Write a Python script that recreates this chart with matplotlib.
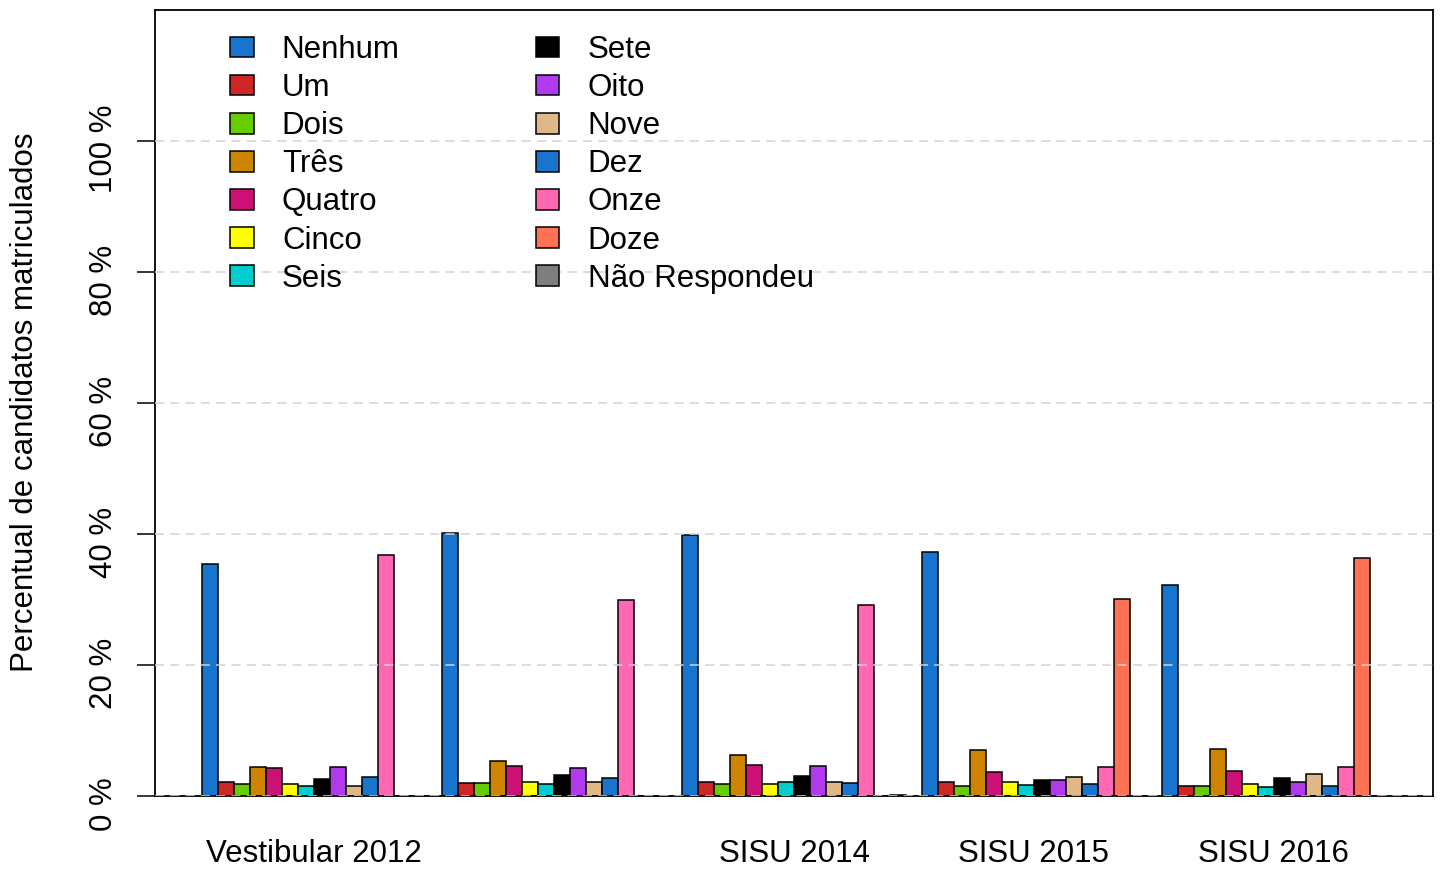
import numpy as np
import matplotlib.pyplot as plt
import matplotlib.transforms as mtransforms
from matplotlib.patches import Patch

plt.rcParams['font.family'] = ['Liberation Sans', 'DejaVu Sans']

# Grupos (o rótulo do segundo grupo não aparece no original)
grupos = ["Vestibular 2012", "", "SISU 2014", "SISU 2015", "SISU 2016"]

categorias = ["Nenhum", "Um", "Dois", "Três", "Quatro", "Cinco", "Seis",
              "Sete", "Oito", "Nove", "Dez", "Onze", "Doze", "Não Respondeu"]

cores = ["#1874CD", "#CD2626", "#66CD00", "#CD8500", "#CD1076", "#FFFF00", "#00CDCD",
         "#000000", "#B23AEE", "#DEB887", "#1874CD", "#FF69B4", "#FF7256", "#7F7F7F"]

# percentuais por grupo
vest_2012 = [35.4, 2.1, 1.8, 4.4, 4.3, 1.8, 1.5, 2.6, 4.4, 1.6, 2.9, 36.8, 0.0, 0.0]
grupo_2 = [40.1, 2.0, 2.0, 5.3, 4.6, 2.2, 1.8, 3.2, 4.2, 2.1, 2.8, 29.9, 0.0, 0.0]
sisu_2014 = [39.9, 2.2, 1.9, 6.3, 4.7, 1.9, 2.1, 3.1, 4.6, 2.1, 2.0, 29.2, 0.0, 0.2]
sisu_2015 = [37.3, 2.1, 1.6, 7.0, 3.7, 2.2, 1.7, 2.5, 2.5, 2.9, 1.9, 4.4, 30.1, 0.0]
sisu_2016 = [32.2, 1.6, 1.5, 7.2, 3.8, 1.8, 1.4, 2.8, 2.1, 3.3, 1.5, 4.5, 36.3, 0.0]

valores = [vest_2012, grupo_2, sisu_2014, sisu_2015, sisu_2016]

yticks = [0, 20, 40, 60, 80, 100]

FS = 22.5


def main():
    fig = plt.figure(figsize=(14.43, 8.72), dpi=100)
    ax = fig.add_axes([155/1443, 76/872, 1278/1443, 786/872])

    n = len(categorias)
    passo = n + 1
    for g, vals in enumerate(valores):
        x = g * passo + 1 + np.arange(n) + 0.5
        ax.bar(x, vals, width=1.0, color=cores, edgecolor='black',
               linewidth=1.1, zorder=2)

    # linhas de grade tracejadas por cima das barras
    for y in yticks:
        ax.axhline(y, color='#D3D3D3', linewidth=1.1, linestyle=(0, (6, 4)), zorder=3)

    total = passo * len(grupos)
    largura = total - 1
    ax.set_xlim(1 - 0.04 * largura, total + 0.04 * largura)
    ax.set_ylim(0, 120)

    ax.set_yticks(yticks)
    ax.set_yticklabels([f"{v} %" for v in yticks], rotation=90, va='center', fontsize=FS)
    ax.tick_params(axis='y', length=13, width=1.1, pad=13)
    desloc = mtransforms.ScaledTranslation(0, -8/100, fig.dpi_scale_trans)
    for lab in ax.get_yticklabels():
        lab.set_transform(lab.get_transform() + desloc)

    centros = [g * passo + 1 + n / 2 for g in range(len(grupos))]
    ax.set_xticks(centros)
    ax.set_xticklabels(grupos, fontsize=FS)
    ax.tick_params(axis='x', length=0, pad=31)

    for s in ax.spines.values():
        s.set_linewidth(1.3)

    fig.text(25/1443, 1 - 402/872, "Percentual de candidatos matriculados",
             rotation=90, ha='center', va='center', fontsize=FS)

    handles = [Patch(facecolor=c, edgecolor='black', linewidth=1.1) for c in cores]
    ax.legend(handles, categorias, ncol=2, frameon=False, fontsize=FS,
              loc='upper left', bbox_to_anchor=(230/1443, 1 - 35/872),
              bbox_transform=fig.transFigure, borderpad=0, borderaxespad=0,
              handlelength=0.76, handleheight=0.64, handletextpad=0.9,
              labelspacing=0.26, columnspacing=4.35)

    fig.savefig("out.png", dpi=100)


if __name__ == "__main__":
    main()
